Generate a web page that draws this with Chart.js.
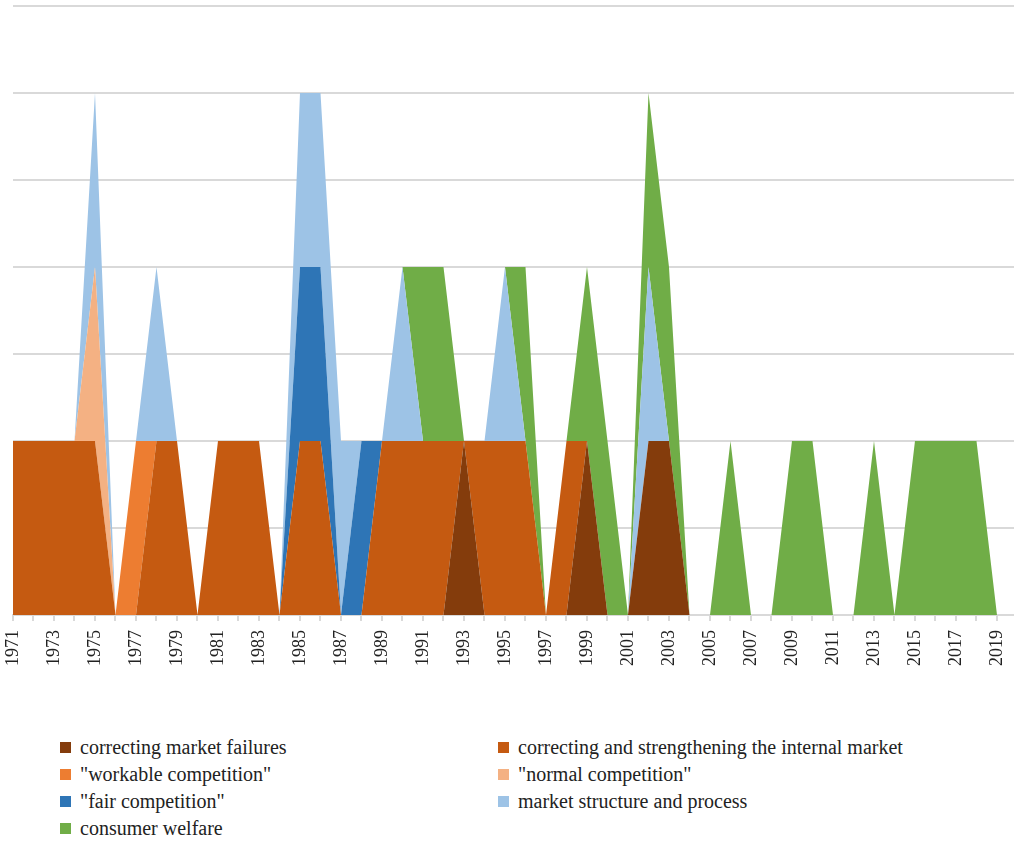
<!DOCTYPE html>
<html>
<head>
<meta charset="utf-8">
<script src="https://cdn.jsdelivr.net/npm/chart.js@4/dist/chart.umd.min.js"></script>
<style>
  html, body { margin: 0; padding: 0; background: #fff; overflow: hidden; }
  #wrap { position: relative; width: 1014px; height: 700px; }
  #legend {
    position: absolute; left: 60px; top: 734px;
    display: grid; grid-template-columns: 438px auto; grid-auto-rows: 27px;
    font-family: 'Liberation Serif', 'Times New Roman', serif; font-size: 20px; color: #222;
  }
  #legend div { display: flex; align-items: center; white-space: nowrap; }
  #legend span { display: inline-block; width: 11px; height: 11px; margin-right: 9px; }
</style>
</head>
<body>
<div id="wrap"><canvas id="c"></canvas></div>
<div id="legend"></div>
<script>
const FONT = "'Liberation Serif','Times New Roman',serif";

const YEARS = [];
for (let y = 1971; y <= 2019; y++) YEARS.push(y);

// one value per year, 1971..2019
const marketFailures = [
  0,0,0,0,0, 0,0,0,0,0, 0,0,0,0,0, 0,0,0,0,0, 0,0,1,0,0, 0,0,0,1,0,
  0,1,1,0,0, 0,0,0,0,0, 0,0,0,0,0, 0,0,0,0];
const internalMarket = [
  1,1,1,1,1, 0,0,1,1,0, 1,1,1,0,1, 1,0,0,1,1, 1,1,0,1,1, 1,0,1,0,0,
  0,0,0,0,0, 0,0,0,0,0, 0,0,0,0,0, 0,0,0,0];
const workable = [
  0,0,0,0,0, 0,1,0,0,0, 0,0,0,0,0, 0,0,0,0,0, 0,0,0,0,0, 0,0,0,0,0,
  0,0,0,0,0, 0,0,0,0,0, 0,0,0,0,0, 0,0,0,0];
const normal = [
  0,0,0,0,1, 0,0,0,0,0, 0,0,0,0,0, 0,0,0,0,0, 0,0,0,0,0, 0,0,0,0,0,
  0,0,0,0,0, 0,0,0,0,0, 0,0,0,0,0, 0,0,0,0];
const fair = [
  0,0,0,0,0, 0,0,0,0,0, 0,0,0,0,1, 1,0,1,0,0, 0,0,0,0,0, 0,0,0,0,0,
  0,0,0,0,0, 0,0,0,0,0, 0,0,0,0,0, 0,0,0,0];
const marketStructure = [
  0,0,0,0,1, 0,0,1,0,0, 0,0,0,0,1, 1,1,0,0,1, 0,0,0,0,1, 0,0,0,0,0,
  0,1,0,0,0, 0,0,0,0,0, 0,0,0,0,0, 0,0,0,0];
const consumerWelfare = [
  0,0,0,0,0, 0,0,0,0,0, 0,0,0,0,0, 0,0,0,0,0, 1,1,0,0,0, 1,0,0,1,1,
  0,1,1,0,0, 1,0,0,1,1, 0,0,1,0,1, 1,1,1,0];

const SERIES = [
  ['correcting market failures', marketFailures, '#843C0C'],
  ['correcting and strengthening the internal market', internalMarket, '#C55A11'],
  ['"workable competition"', workable, '#ED7D31'],
  ['"normal competition"', normal, '#F4B183'],
  ['"fair competition"', fair, '#2E75B6'],
  ['market structure and process', marketStructure, '#9DC3E6'],
  ['consumer welfare', consumerWelfare, '#70AD47'],
];

const GRID = '#D9D9D9';

new Chart(document.getElementById('c'), {
  type: 'line',
  data: {
    datasets: SERIES.map(([label, vals, color], i) => ({
      label,
      data: YEARS.map((y, k) => ({ x: y, y: vals[k] })),
      backgroundColor: color,
      borderColor: 'rgba(0,0,0,0)',
      borderWidth: 0,
      pointRadius: 0,
      tension: 0,
      fill: i === 0 ? 'origin' : '-1',
    })),
  },
  options: {
    responsive: true,
    maintainAspectRatio: false,
    animation: false,
    layout: { padding: { left: 13, top: 6, right: 0, bottom: 0 } },
    plugins: { legend: { display: false }, tooltip: { enabled: false } },
    scales: {
      x: {
        type: 'linear',
        min: 1971,
        max: 2019.83,
        afterFit: (s) => { s.height = 85; s.paddingLeft = 0; s.paddingRight = 0; },
        border: { color: GRID, width: 2 },
        grid: { drawOnChartArea: false, color: GRID, lineWidth: 2, tickLength: 6 },
        ticks: {
          stepSize: 1,
          includeBounds: false,
          autoSkip: false,
          minRotation: 90,
          maxRotation: 90,
          padding: 9,
          color: '#222',
          font: { family: FONT, size: 18 },
          callback: (v) => ((v - 1971) % 2 === 0 ? String(v) : ''),
        },
      },
      y: {
        stacked: true,
        min: 0,
        max: 3.5,
        afterFit: (s) => { s.width = 0; },
        border: { display: false },
        grid: { color: GRID, lineWidth: 2, drawTicks: false },
        ticks: { stepSize: 0.5, display: false },
      },
    },
  },
});

const legend = document.getElementById('legend');
SERIES.forEach(([label, , color]) => {
  const d = document.createElement('div');
  const sw = document.createElement('span');
  sw.style.background = color;
  d.appendChild(sw);
  d.appendChild(document.createTextNode(label));
  legend.appendChild(d);
});
</script>
</body>
</html>
